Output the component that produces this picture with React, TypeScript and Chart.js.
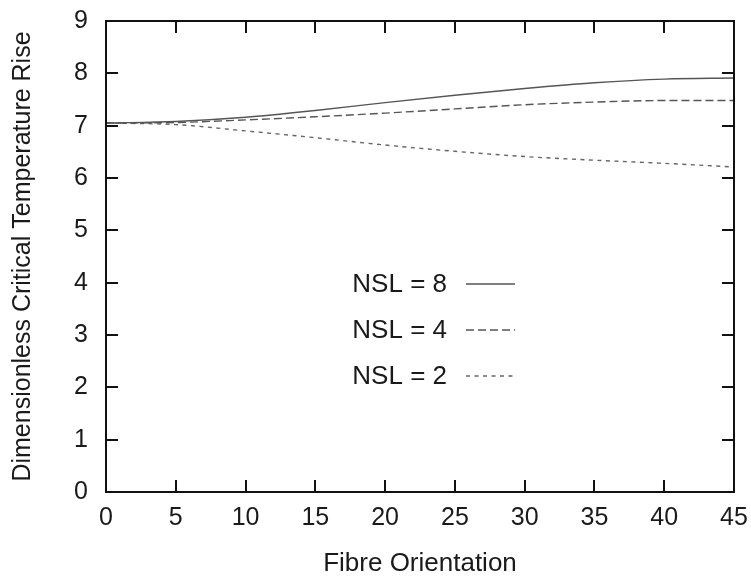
import React, { useEffect, useRef } from "react";
import { Chart, registerables } from "chart.js";

Chart.register(...registerables);

// ---- Data ----
const orientations = [0, 5, 10, 15, 20, 25, 30, 35, 40, 45];
const nsl8 = [7.05, 7.08, 7.16, 7.29, 7.44, 7.58, 7.71, 7.82, 7.89, 7.91];
const nsl4 = [7.05, 7.06, 7.11, 7.17, 7.24, 7.32, 7.4, 7.45, 7.48, 7.48];
const nsl2 = [7.05, 7.02, 6.9, 6.77, 6.63, 6.51, 6.41, 6.34, 6.28, 6.21];
const seriesLabels = ["NSL = 8", "NSL = 4", "NSL = 2"];
const xTickValues = [0, 5, 10, 15, 20, 25, 30, 35, 40, 45];
const yTickValues = [0, 1, 2, 3, 4, 5, 6, 7, 8, 9];
const xTitle = "Fibre Orientation";
const yTitle = "Dimensionless Critical Temperature Rise";

const FONT = "'Liberation Sans', Arial, Helvetica, sans-serif";
const TEXT = "#1a1a1a";
const LINE_COLORS = ["#555555", "#555555", "#666666"];
const DASHES: number[][] = [[], [8, 4], [4, 4.5]];

const framePlugin = {
  id: "frameTicks",
  afterDraw(chart: any) {
    const { ctx, chartArea, scales } = chart;
    const { left, right, top, bottom } = chartArea;
    const xs = scales.x;
    const ys = scales.y;
    ctx.save();
    ctx.strokeStyle = "#111";
    ctx.lineWidth = 2;
    ctx.strokeRect(left, top, right - left, bottom - top);
    ctx.beginPath();
    xTickValues.forEach((v) => {
      const px = Math.round(xs.getPixelForValue(v));
      ctx.moveTo(px, bottom);
      ctx.lineTo(px, bottom - 12);
      ctx.moveTo(px, top);
      ctx.lineTo(px, top + 12);
    });
    yTickValues.forEach((v) => {
      const py = Math.round(ys.getPixelForValue(v));
      ctx.moveTo(left, py);
      ctx.lineTo(left + 12, py);
      ctx.moveTo(right, py);
      ctx.lineTo(right - 12, py);
    });
    ctx.stroke();
    ctx.restore();
  },
};

const insideLegendPlugin = {
  id: "insideLegend",
  afterDraw(chart: any) {
    const { ctx, chartArea } = chart;
    const { left, top } = chartArea;
    const textRight = left + 341;
    const lineStart = left + 360;
    const lineEnd = left + 409;
    const firstY = top + 263;
    const rowGap = 46;
    ctx.save();
    ctx.font = `26px ${FONT}`;
    ctx.fillStyle = TEXT;
    ctx.textAlign = "right";
    ctx.textBaseline = "middle";
    chart.data.datasets.forEach((ds: any, i: number) => {
      const y = firstY + rowGap * i;
      ctx.fillText(ds.label, textRight, y + 1);
      ctx.beginPath();
      ctx.strokeStyle = ds.borderColor;
      ctx.lineWidth = 1.4;
      ctx.setLineDash(ds.borderDash || []);
      ctx.moveTo(lineStart, y);
      ctx.lineTo(lineEnd, y);
      ctx.stroke();
    });
    ctx.restore();
  },
};

export default function App() {
  const canvasRef = useRef<HTMLCanvasElement | null>(null);

  useEffect(() => {
    const canvas = canvasRef.current;
    if (!canvas) return;
    const series = [nsl8, nsl4, nsl2];
    const chart = new Chart(canvas, {
      type: "line",
      data: {
        datasets: series.map((vals, i) => ({
          label: seriesLabels[i],
          data: orientations.map((x, j) => ({ x, y: vals[j] })),
          borderColor: LINE_COLORS[i],
          borderWidth: 1.4,
          borderDash: DASHES[i],
          pointRadius: 0,
          fill: false,
          cubicInterpolationMode: "monotone" as const,
        })),
      },
      options: {
        responsive: false,
        animation: false,
        layout: { padding: { left: 4, right: 17, top: 21, bottom: 0 } },
        plugins: {
          legend: { display: false },
          tooltip: { enabled: false },
        },
        scales: {
          x: {
            type: "linear",
            min: 0,
            max: 45,
            afterFit: (scale: any) => {
              scale.height = 85;
              scale.paddingLeft = 0;
              scale.paddingRight = 0;
            },
            grid: { display: false, drawTicks: false },
            border: { display: false },
            ticks: {
              stepSize: 5,
              maxRotation: 0,
              autoSkip: false,
              padding: 11,
              color: TEXT,
              font: { family: FONT, size: 25 },
            },
            title: {
              display: true,
              text: xTitle,
              color: TEXT,
              font: { family: FONT, size: 26, lineHeight: 1 },
              padding: { top: 0, bottom: 0 },
            },
          },
          y: {
            type: "linear",
            min: 0,
            max: 9,
            afterFit: (scale: any) => {
              scale.width = 102;
              scale.paddingTop = 0;
              scale.paddingBottom = 0;
            },
            grid: { display: false, drawTicks: false },
            border: { display: false },
            ticks: {
              stepSize: 1,
              padding: 18,
              color: TEXT,
              font: { family: FONT, size: 25 },
            },
            title: {
              display: true,
              text: yTitle,
              color: TEXT,
              font: { family: FONT, size: 25 },
              padding: { top: 4, bottom: 4 },
            },
          },
        },
      },
      plugins: [framePlugin, insideLegendPlugin],
    });
    return () => chart.destroy();
  }, []);

  return (
    <div style={{ position: "absolute", left: 0, top: 0, width: 751, height: 577, background: "#fff" }}>
      <canvas ref={canvasRef} width={751} height={577} />
    </div>
  );
}
